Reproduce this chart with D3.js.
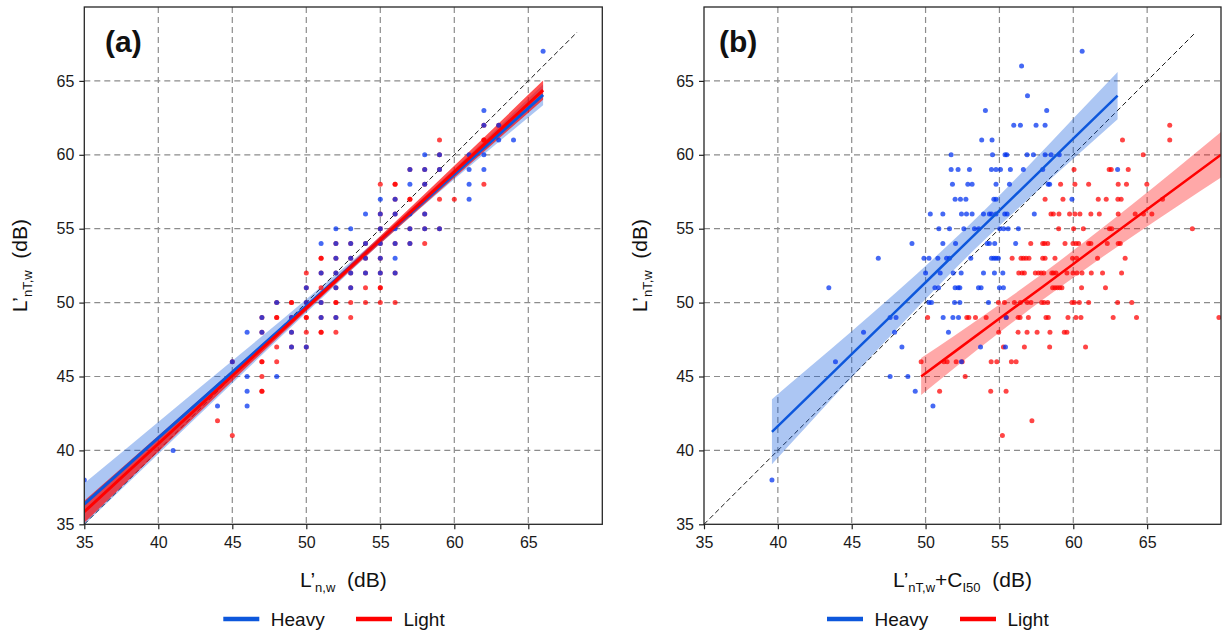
<!DOCTYPE html>
<html>
<head>
<meta charset="utf-8">
<script src="https://cdn.jsdelivr.net/npm/d3@7"></script>
<style>
  body { margin: 0; background: #fff; }
  svg { display: block; font-family: "Liberation Sans", Arial, sans-serif; }
</style>
</head>
<body>
<svg id="chart" width="1222" height="631"></svg>
<script>
// ---- axes ----
const axisMin = 35, axisMax = 70;
const xTicks = [35, 40, 45, 50, 55, 60, 65];
const yTicks = [35, 40, 45, 50, 55, 60, 65];
const gridValues = [40, 45, 50, 55, 60, 65];
const identityEnd = 68.3;
const seriesNames = ["Heavy", "Light"];

// ---- panel (a): L'n,w vs L'nT,w (measured levels, y-level rows) ----
const heavyA_levels = [67, 63, 62, 61, 60, 59, 58, 57, 56, 55, 54, 53, 52, 51, 50, 49, 48, 47, 46, 45, 44, 43, 40, 38];
const heavyA_xs = [
  [66], [62], [62, 63], [63, 64], [58, 59, 61, 62], [57, 58, 59, 61, 62], [57, 58, 61], [55, 56, 61],
  [54, 55, 56, 57, 58], [52, 53, 55, 56, 57, 58, 59], [51, 52, 53, 54, 55, 56, 57], [52, 53, 54, 55, 56],
  [51, 52, 53, 54, 55, 56], [50, 52, 53], [48, 50, 51], [47, 49, 51, 52], [46, 47, 49], [49, 50], [45],
  [46, 48], [46], [44, 46], [41], [35]
];
const lightA_levels = [62, 61, 60, 59, 58, 57, 56, 55, 54, 53, 52, 51, 50, 49, 48, 47, 46, 45, 44, 42, 41];
const lightA_xs = [
  [62, 63], [59, 62, 62], [59], [57, 58, 59], [55, 56, 56, 58, 62], [56, 57, 57, 59, 60], [55, 56, 58],
  [55, 57, 58, 59], [52, 53, 54, 55, 56, 57, 58], [51, 51, 52, 53, 54, 55], [50, 51, 52, 53, 54, 55, 56],
  [50, 51, 52, 53, 54, 55, 55], [48, 49, 49, 50, 51, 52, 52, 53, 54, 55, 56], [47, 48, 48, 49, 50, 50, 51, 52, 53],
  [47, 49, 50, 51, 51, 52], [48, 49, 50], [45, 47, 47, 48], [47], [47, 47], [44], [45]
];

// regression fits with 95% confidence bands, panel (a)
const fitA_x = [35, 40, 45, 50, 55, 60, 66];
const heavyFitA_y  = [36.37, 40.84, 45.30, 49.77, 54.23, 58.70, 64.05];
const heavyFitA_lo = [34.97, 39.76, 44.54, 49.31, 53.98, 58.34, 63.35];
const heavyFitA_hi = [37.77, 41.92, 46.06, 50.23, 54.48, 59.06, 64.75];
const lightFitA_y  = [35.85, 40.45, 45.05, 49.65, 54.25, 58.85, 64.37];
const lightFitA_lo = [35.10, 39.91, 44.70, 49.44, 54.00, 58.44, 63.72];
const lightFitA_hi = [36.60, 40.99, 45.40, 49.86, 54.50, 59.26, 65.02];

// ---- panel (b): L'nT,w+CI50 vs L'nT,w ----
const heavyB_levels = [67, 66, 64, 63, 62, 61, 60, 59, 58, 57, 56, 55, 54, 53, 52, 51, 50, 49, 48, 47, 46, 45, 44, 43, 38];
const heavyB_xs = [
  [60.6], [56.5], [56.9], [54.05, 58.2], [55.97, 56.42, 57.48, 58.09], [53.8, 54.5],
  [51.73, 54.53, 55.38, 55.5, 56.87, 57.3, 58.09, 58.5, 59.05],
  [51.73, 52.2, 52.97, 54.46, 54.77, 55.07, 55.74, 56.62, 57.93, 63.0],
  [51.82, 52.86, 53.15, 54.77, 55.68, 58.3, 58.4],
  [52.0, 52.36, 52.73, 54.62, 54.77, 59.91],
  [50.32, 51.17, 52.43, 52.77, 53.15, 53.92, 54.32, 54.46, 54.77, 55.36, 55.52, 57.36],
  [50.9, 51.62, 52.59, 53.31, 53.6, 55.02, 55.29, 55.59, 56.28],
  [49.08, 51.17, 52.03, 54.17, 54.32, 54.68, 56.1],
  [46.8, 49.89, 50.23, 50.83, 51.42, 51.62, 53.06, 54.46, 54.62, 54.77, 54.93],
  [50.0, 50.99, 51.87, 52.41, 53.92, 54.66, 55.23],
  [43.45, 50.63, 50.88, 52.0, 52.2, 52.32, 53.58, 53.76, 55.0, 55.27],
  [50.23, 50.4, 51.96, 52.32, 54.26],
  [47.6, 48.0, 51.19, 51.85, 52.23, 55.45],
  [45.8, 47.9, 51.55],
  [48.4, 53.72, 55.41],
  [43.9, 52.43],
  [47.6, 48.8],
  [49.3],
  [50.5],
  [39.6]
];
const lightB_levels = [62, 61, 60, 59, 58, 57, 56, 55, 54, 53, 52, 51, 50, 49, 48, 47, 46, 45, 44, 42, 41];
const lightB_xs = [
  [66.53], [63.33, 66.53], [64.73], [60.05, 62.43, 62.57, 63.72],
  [59.14, 60.11, 61.04, 63.04, 63.6, 64.98],
  [58.09, 59.3, 61.69, 62.23, 63.02, 63.24, 66.04],
  [58.49, 58.65, 59.03, 59.75, 60.11, 60.45, 61.19, 61.76, 63.04, 64.19, 64.75, 65.32],
  [59.01, 60.02, 60.68, 62.45, 62.6, 68.06],
  [57.12, 57.93, 58.06, 58.27, 59.44, 59.98, 60.18, 60.36, 61.04, 61.19, 62.3, 63.04, 63.18],
  [55.86, 56.46, 56.62, 56.8, 57.0, 57.93, 58.09, 58.76, 59.95, 60.23, 61.64, 63.51],
  [56.31, 56.53, 56.69, 57.43, 57.64, 57.82, 58.0, 58.54, 58.65, 58.83, 59.57, 59.98, 60.25, 60.59, 61.22, 61.98, 63.27],
  [58.6, 58.76, 58.92, 59.08, 59.23, 60.56, 62.18],
  [54.93, 55.34, 56.01, 56.42, 56.89, 57.14, 57.86, 58.02, 58.27, 59.91, 60.07, 60.41, 61.04, 63.0, 63.96],
  [50.14, 52.79, 52.93, 53.38, 54.1, 55.47, 56.26, 56.4, 56.96, 58.15, 58.31, 59.64, 60.18, 60.52, 62.7, 64.28, 69.86],
  [54.95, 56.26, 56.87, 57.55, 58.42, 59.39, 59.57],
  [55.27, 56.69, 58.4, 60.83],
  [49.7, 51.24, 51.46, 52.07, 52.48, 54.44, 54.82, 55.81, 56.13],
  [52.68],
  [50.95, 54.41, 55.45],
  [57.2],
  [55.2]
];

// regression fits with 95% confidence bands, panel (b)
const heavyFitB_x  = [39.6, 42, 45, 48, 51, 54, 57, 60, 63];
const heavyFitB_y  = [41.26, 43.59, 46.51, 49.42, 52.34, 55.26, 58.17, 61.09, 64.00];
const heavyFitB_lo = [39.06, 41.68, 44.95, 48.15, 51.28, 54.26, 57.05, 59.73, 62.40];
const heavyFitB_hi = [43.46, 45.50, 48.07, 50.69, 53.40, 56.26, 59.29, 62.45, 65.60];
const lightFitB_x  = [49.7, 52, 55, 58, 61, 64, 67, 70];
const lightFitB_y  = [45.00, 46.70, 48.92, 51.13, 53.35, 55.57, 57.78, 60.00];
const lightFitB_lo = [43.75, 45.61, 47.97, 50.24, 52.40, 54.48, 56.48, 58.46];
const lightFitB_hi = [46.25, 47.79, 49.87, 52.02, 54.30, 56.66, 59.08, 61.54];

// ---- styling ----
const colors = {
  heavyPoint: "#0032f0", lightPoint: "#ff0000",
  heavyLine: "#0d57dc", lightLine: "#ff0000",
  grid: "#8c8c8c", frame: "#262626"
};
const plotTop = 7, plotBottom = 524.3;

const svg = d3.select("#chart");

function pointsFrom(levels, xs) {
  return levels.flatMap((lv, i) => xs[i].map(v => ({ x: v, y: lv })));
}
function bandFrom(xArr, lo, mid, hi) {
  return xArr.map((v, i) => ({ x: v, lo: lo[i], y: mid[i], hi: hi[i] }));
}

// writes "main / subscript" runs into a text element
function richText(sel, parts, baseSize, subSize) {
  let shifted = false;
  parts.forEach(p => {
    const t = sel.append("tspan").text(p.t);
    if (p.sub && !shifted) { t.attr("dy", 5).attr("font-size", subSize); shifted = true; }
    else if (p.sub) { t.attr("font-size", subSize); }
    else if (shifted) { t.attr("dy", -5).attr("font-size", baseSize); shifted = false; }
    else { t.attr("font-size", baseSize); }
  });
}

const panels = [
  {
    key: "a", left: 84.3, right: 602.3, label: "(a)", labelX: 105,
    heavy: pointsFrom(heavyA_levels, heavyA_xs), light: pointsFrom(lightA_levels, lightA_xs),
    heavyFit: bandFrom(fitA_x, heavyFitA_lo, heavyFitA_y, heavyFitA_hi),
    lightFit: bandFrom(fitA_x, lightFitA_lo, lightFitA_y, lightFitA_hi),
    heavyBandOpacity: 0.34, lightBandOpacity: 0.68, lineWidth: 3,
    xTitle: [{ t: "L’" }, { t: "n,w", sub: true }, { t: "\u00a0\u00a0(dB)" }],
    legendX: [223.3, 356]
  },
  {
    key: "b", left: 704, right: 1221, label: "(b)", labelX: 719,
    heavy: pointsFrom(heavyB_levels, heavyB_xs), light: pointsFrom(lightB_levels, lightB_xs),
    heavyFit: bandFrom(heavyFitB_x, heavyFitB_lo, heavyFitB_y, heavyFitB_hi),
    lightFit: bandFrom(lightFitB_x, lightFitB_lo, lightFitB_y, lightFitB_hi),
    heavyBandOpacity: 0.34, lightBandOpacity: 0.34, lineWidth: 2.5,
    xTitle: [{ t: "L’" }, { t: "nT,w", sub: true }, { t: "+C" }, { t: "I50", sub: true }, { t: "\u00a0\u00a0(dB)" }],
    legendX: [827, 960]
  }
];

panels.forEach(p => {
  const x = d3.scaleLinear().domain([axisMin, axisMax]).range([p.left, p.right]);
  const y = d3.scaleLinear().domain([axisMin, axisMax]).range([plotBottom, plotTop]);
  const g = svg.append("g").attr("class", "panel-" + p.key);

  const clipId = "clip-" + p.key;
  svg.append("clipPath").attr("id", clipId).append("rect")
    .attr("x", p.left).attr("y", plotTop)
    .attr("width", p.right - p.left).attr("height", plotBottom - plotTop);

  // dashed grid
  const grid = g.append("g");
  grid.selectAll("line.gv").data(gridValues).join("line").attr("class", "gv")
    .attr("x1", d => x(d)).attr("x2", d => x(d)).attr("y1", plotTop).attr("y2", plotBottom);
  grid.selectAll("line.gh").data(gridValues).join("line").attr("class", "gh")
    .attr("y1", d => y(d)).attr("y2", d => y(d)).attr("x1", p.left).attr("x2", p.right);
  grid.selectAll("line").attr("stroke", colors.grid).attr("stroke-width", 1.2).attr("stroke-dasharray", "6,4");

  // 1:1 reference line
  g.append("line")
    .attr("x1", x(axisMin)).attr("y1", y(axisMin)).attr("x2", x(identityEnd)).attr("y2", y(identityEnd))
    .attr("stroke", "#1a1a1a").attr("stroke-width", 1).attr("stroke-dasharray", "5,3");

  const body = g.append("g").attr("clip-path", `url(#${clipId})`);

  const area = d3.area().x(d => x(d.x)).y0(d => y(d.lo)).y1(d => y(d.hi)).curve(d3.curveMonotoneX);
  const line = d3.line().x(d => x(d.x)).y(d => y(d.y));

  body.append("path").datum(p.heavyFit).attr("d", area)
    .attr("fill", colors.heavyLine).attr("fill-opacity", p.heavyBandOpacity);
  body.append("path").datum(p.lightFit).attr("d", area)
    .attr("fill", colors.lightLine).attr("fill-opacity", p.lightBandOpacity);

  body.append("g").selectAll("circle").data(p.light).join("circle")
    .attr("cx", d => x(d.x)).attr("cy", d => y(d.y)).attr("r", 2.5)
    .attr("fill", colors.lightPoint).attr("fill-opacity", 0.73);
  body.append("g").selectAll("circle").data(p.heavy).join("circle")
    .attr("cx", d => x(d.x)).attr("cy", d => y(d.y)).attr("r", 2.5)
    .attr("fill", colors.heavyPoint).attr("fill-opacity", 0.73);

  body.append("path").datum(p.heavyFit).attr("d", line)
    .attr("fill", "none").attr("stroke", colors.heavyLine).attr("stroke-width", p.lineWidth);
  body.append("path").datum(p.lightFit).attr("d", line)
    .attr("fill", "none").attr("stroke", colors.lightLine).attr("stroke-width", p.lineWidth);

  // frame
  g.append("rect").attr("x", p.left).attr("y", plotTop)
    .attr("width", p.right - p.left).attr("height", plotBottom - plotTop)
    .attr("fill", "none").attr("stroke", colors.frame).attr("stroke-width", 1.3);

  // axes
  const xAxis = g.append("g").attr("transform", `translate(0,${plotBottom})`)
    .call(d3.axisBottom(x).tickValues(xTicks).tickSize(5).tickSizeOuter(0).tickPadding(7));
  const yAxis = g.append("g").attr("transform", `translate(${p.left},0)`)
    .call(d3.axisLeft(y).tickValues(yTicks).tickSize(5).tickSizeOuter(0).tickPadding(5));
  [xAxis, yAxis].forEach(a => {
    a.select(".domain").remove();
    a.selectAll(".tick line").attr("stroke", "#222").attr("stroke-width", 1.2);
    a.selectAll(".tick text").attr("font-size", 16).attr("fill", "#1a1a1a")
      .attr("font-family", "Liberation Sans, Arial, sans-serif");
  });

  // panel tag
  g.append("text").attr("x", p.labelX).attr("y", 52).attr("font-size", 30)
    .attr("font-weight", "bold").attr("fill", "#111").text(p.label);

  // axis titles
  const xt = g.append("text").attr("x", (p.left + p.right) / 2).attr("y", 587)
    .attr("text-anchor", "middle").attr("fill", "#111");
  richText(xt, p.xTitle, 21, 13);

  const yt = g.append("text")
    .attr("transform", `translate(${p.left - 57},${(plotTop + plotBottom) / 2}) rotate(-90)`)
    .attr("text-anchor", "middle").attr("fill", "#111");
  richText(yt, [{ t: "L’" }, { t: "nT,w", sub: true }, { t: "\u00a0\u00a0(dB)" }], 21, 13);

  // legend
  const legendColors = [colors.heavyLine, colors.lightLine];
  const lg = g.append("g");
  seriesNames.forEach((name, i) => {
    const lx = p.legendX[i];
    lg.append("line").attr("x1", lx).attr("x2", lx + 36).attr("y1", 619).attr("y2", 619)
      .attr("stroke", legendColors[i]).attr("stroke-width", 4.5);
    lg.append("text").attr("x", lx + 47.5).attr("y", 619).attr("dy", "0.35em")
      .attr("font-size", 19).attr("fill", "#111").text(name);
  });
});
</script>
</body>
</html>
